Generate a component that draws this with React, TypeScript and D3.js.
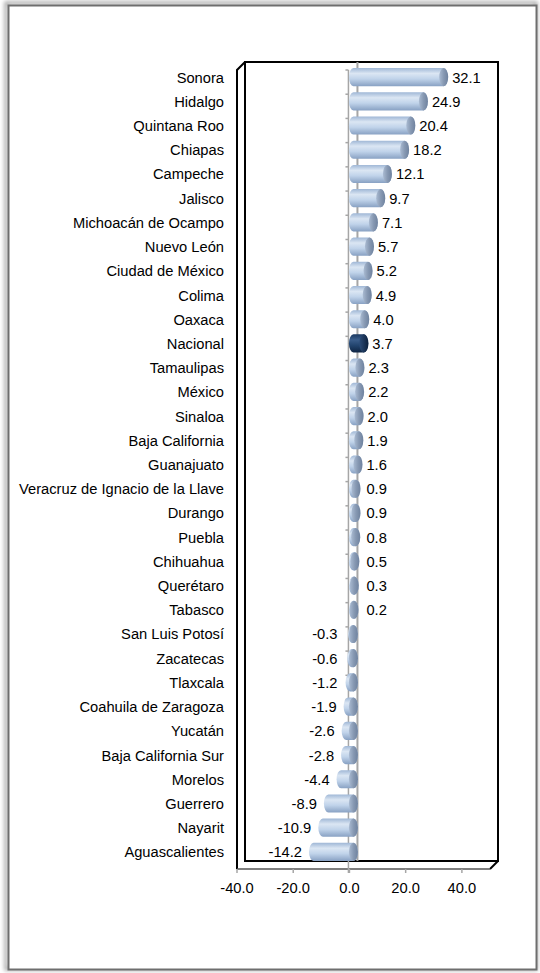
import React from "react";
import * as d3 from "d3";

const categories = [
  "Sonora", "Hidalgo", "Quintana Roo", "Chiapas", "Campeche", "Jalisco",
  "Michoacán de Ocampo", "Nuevo León", "Ciudad de México", "Colima", "Oaxaca",
  "Nacional", "Tamaulipas", "México", "Sinaloa", "Baja California", "Guanajuato",
  "Veracruz de Ignacio de la Llave", "Durango", "Puebla", "Chihuahua", "Querétaro",
  "Tabasco", "San Luis Potosí", "Zacatecas", "Tlaxcala", "Coahuila de Zaragoza",
  "Yucatán", "Baja California Sur", "Morelos", "Guerrero", "Nayarit", "Aguascalientes",
];
const values = [
  32.1, 24.9, 20.4, 18.2, 12.1, 9.7, 7.1, 5.7, 5.2, 4.9, 4.0, 3.7, 2.3, 2.2, 2.0,
  1.9, 1.6, 0.9, 0.9, 0.8, 0.5, 0.3, 0.2, -0.3, -0.6, -1.2, -1.9, -2.6, -2.8, -4.4,
  -8.9, -10.9, -14.2,
];
const highlight = "Nacional";
const xDomain = [-40, 50];
const xTicks = [-40, -20, 0, 20, 40];

const W = 540;
const H = 973;
const DEPTH = 8;
// front plane of the 3D box
const FL = 237, FR = 490, FT = 70, FB = 869;

const fmt = d3
  .formatLocale({ decimal: ".", thousands: ",", grouping: [3], currency: ["", ""], minus: "-" })
  .format(".1f");

export default function App() {
  const xFront = d3.scaleLinear().domain(xDomain).range([FL, FR]);
  const half = DEPTH / 2;
  const xMid = (v: number) => xFront(v) + half;
  const yFront = d3.scaleBand<string>().domain(categories).range([FT, FB]).paddingInner(0).paddingOuter(0);
  const yMid = d3
    .scaleBand<string>()
    .domain(categories)
    .range([FT - half - 1, FB - half - 1])
    .paddingInner(0.25)
    .paddingOuter(0.125);

  const font = "'Liberation Sans', Arial, sans-serif";
  const fs = 14.7;
  const rx = 4.5;

  const bars = categories.map((c, i) => {
    const v = values[i];
    const y0 = yMid(c)!;
    const h = yMid.bandwidth();
    const ry = h / 2;
    const a = Math.min(xMid(0), xMid(v));
    const b = Math.max(xMid(0), xMid(v));
    const isHi = c === highlight;
    const body = `M${a},${y0} L${b},${y0} A${rx},${ry} 0 0 1 ${b},${y0 + h} L${a},${y0 + h} A${rx},${ry} 0 0 1 ${a},${y0} Z`;
    const cy = y0 + ry;
    let lx: number, anchor: string;
    if (v >= 0) {
      lx = Math.max(b + rx, xMid(0) + 9) + 4;
      anchor = "start";
    } else {
      lx = Math.min(a - rx, xFront(0) - 5) - 7;
      anchor = "end";
    }
    return (
      <g key={c}>
        <path d={body} fill={isHi ? "url(#bodyHi)" : "url(#body)"} />
        <ellipse cx={b} cy={cy} rx={rx} ry={ry} fill={isHi ? "url(#capHi)" : "url(#cap)"} />
        <text x={lx} y={cy + 5.5} textAnchor={anchor} fontSize={fs} fontFamily={font} fill="#000">
          {fmt(v)}
        </text>
      </g>
    );
  });

  const z0f = xFront(0);
  const z0b = xFront(0) + DEPTH;

  return (
    <svg width={W} height={H} style={{ position: "absolute", left: 0, top: 0 }}>
      <defs>
        <linearGradient id="body" x1="0" y1="0" x2="0" y2="1">
          <stop offset="0" stopColor="#9fb7d6" />
          <stop offset="0.3" stopColor="#dbe6f3" />
          <stop offset="0.6" stopColor="#c0d3ea" />
          <stop offset="1" stopColor="#88a1c3" />
        </linearGradient>
        <linearGradient id="bodyHi" x1="0" y1="0" x2="0" y2="1">
          <stop offset="0" stopColor="#1b3961" />
          <stop offset="0.3" stopColor="#3b5e8b" />
          <stop offset="0.6" stopColor="#23456f" />
          <stop offset="1" stopColor="#0e2543" />
        </linearGradient>
        <linearGradient id="cap" x1="0" y1="0" x2="1" y2="0">
          <stop offset="0" stopColor="#aabbd2" />
          <stop offset="0.5" stopColor="#8799b3" />
          <stop offset="1" stopColor="#6f829e" />
        </linearGradient>
        <linearGradient id="capHi" x1="0" y1="0" x2="1" y2="0">
          <stop offset="0" stopColor="#2c4c78" />
          <stop offset="1" stopColor="#0d213d" />
        </linearGradient>
        <filter id="shadow" x="-5%" y="-5%" width="110%" height="110%">
          <feGaussianBlur stdDeviation="2" />
        </filter>
      </defs>

      {/* outer frame */}
      <rect x={6} y={3} width={530} height={966} fill="none" stroke="#9a9a9a" strokeWidth={3} filter="url(#shadow)" />
      <rect x={8.5} y={5.5} width={528} height={964} fill="#fff" stroke="#6e6e6e" strokeWidth={2} />

      {/* back wall */}
      <rect x={FL + DEPTH} y={FT - DEPTH} width={FR - FL} height={FB - FT} fill="#fff" stroke="#000" strokeWidth={2} />
      {/* left side wall */}
      <path d={`M${FL},${FB} L${FL},${FT} L${FL + DEPTH},${FT - DEPTH}`} fill="none" stroke="#000" strokeWidth={2} />
      {/* floor */}
      <path d={`M${FR},${FB} L${FR + DEPTH},${FB - DEPTH}`} fill="none" stroke="#000" strokeWidth={2} />
      <line x1={FL} x2={FR} y1={FB} y2={FB} stroke="#555" strokeWidth={1.5} />

      {/* zero gridline on back wall */}
      <line x1={z0b} x2={z0b} y1={FT - DEPTH} y2={FB - DEPTH} stroke="#a6a6a6" strokeWidth={2} />

      {/* category axis on front plane */}
      <line x1={z0f - 1} x2={z0f - 1} y1={FT} y2={FB + 4} stroke="#a6a6a6" strokeWidth={1.5} />
      {categories.map((c) => (
        <line key={"t" + c} x1={z0f - 4} x2={z0f - 1} y1={yFront(c)!} y2={yFront(c)!} stroke="#a6a6a6" strokeWidth={1.5} />
      ))}

      {/* value axis ticks */}
      {xTicks.map((t) => (
        <g key={"x" + t}>
          <line x1={xFront(t)} x2={xFront(t)} y1={FB} y2={FB + 4} stroke="#a6a6a6" strokeWidth={1.5} />
          <text x={xFront(t)} y={893} textAnchor="middle" fontSize={fs} fontFamily={font} fill="#000">
            {fmt(t)}
          </text>
        </g>
      ))}

      {bars}

      {/* category labels */}
      {categories.map((c) => (
        <text
          key={"l" + c}
          x={224}
          y={yMid(c)! + yMid.bandwidth() / 2 + 5.5}
          textAnchor="end"
          fontSize={fs}
          fontFamily={font}
          fill="#000"
        >
          {c}
        </text>
      ))}
    </svg>
  );
}
